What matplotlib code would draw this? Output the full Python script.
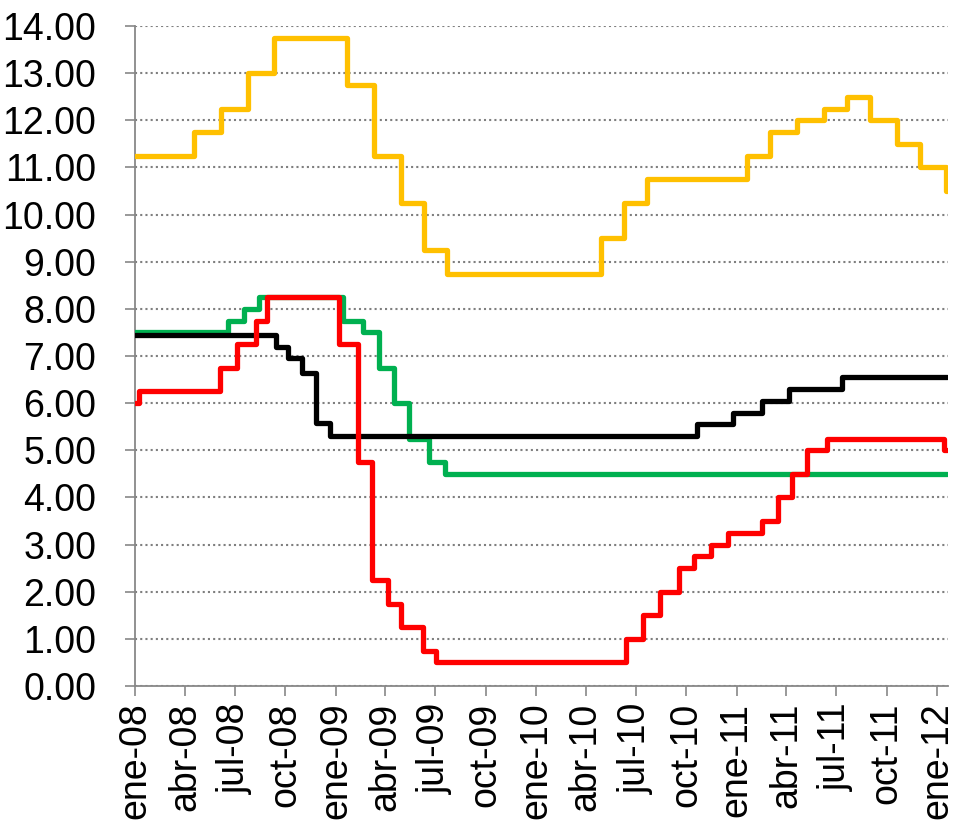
import matplotlib
matplotlib.use("Agg")
import matplotlib.pyplot as plt
import matplotlib.dates as mdates
import pandas as pd

plt.rcParams['font.family'] = ['Liberation Sans', 'DejaVu Sans']

END_DATE = "2012-01-20"

# Yellow series (step change dates and new levels)
yellow_dates = ["2008-01-01", "2008-04-17", "2008-06-05", "2008-07-24", "2008-09-11",
                "2009-01-22", "2009-03-12", "2009-04-30", "2009-06-11", "2009-07-23",
                "2010-04-29", "2010-06-10", "2010-07-22", "2011-01-20", "2011-03-03",
                "2011-04-21", "2011-06-09", "2011-07-21", "2011-09-01", "2011-10-20",
                "2011-12-01", "2012-01-18"]
yellow_values = [11.25, 11.75, 12.25, 13.00, 13.75,
                 12.75, 11.25, 10.25, 9.25, 8.75,
                 9.50, 10.25, 10.75, 11.25, 11.75,
                 12.00, 12.25, 12.50, 12.00, 11.50,
                 11.00, 10.50]

# Green series
green_dates = ["2008-01-01", "2008-06-18", "2008-07-17", "2008-08-13", "2009-01-13",
               "2009-02-20", "2009-03-20", "2009-04-16", "2009-05-15", "2009-06-20",
               "2009-07-19"]
green_values = [7.50, 7.75, 8.00, 8.25, 7.75,
                7.50, 6.75, 6.00, 5.25, 4.75,
                4.50]

# Black series
black_dates = ["2008-01-01", "2008-09-13", "2008-10-05", "2008-11-01", "2008-11-25",
               "2008-12-22", "2010-10-20", "2010-12-25", "2011-02-17", "2011-04-06",
               "2011-07-11"]
black_values = [7.45, 7.20, 6.95, 6.65, 5.57,
                5.30, 5.55, 5.80, 6.05, 6.30,
                6.55]

# Red series
red_dates = ["2008-01-01", "2008-01-09", "2008-06-04", "2008-07-04", "2008-08-08",
             "2008-08-28", "2009-01-07", "2009-02-10", "2009-03-08", "2009-04-06",
             "2009-04-30", "2009-06-09", "2009-07-03", "2010-06-14", "2010-07-15",
             "2010-08-14", "2010-09-18", "2010-10-15", "2010-11-15", "2010-12-16",
             "2011-02-17", "2011-03-17", "2011-04-11", "2011-05-10", "2011-06-14",
             "2012-01-13"]
red_values = [6.00, 6.25, 6.75, 7.25, 7.75,
              8.25, 7.25, 4.75, 2.25, 1.75,
              1.25, 0.75, 0.50, 1.00, 1.50,
              2.00, 2.50, 2.75, 3.00, 3.25,
              3.50, 4.00, 4.50, 5.00, 5.25,
              5.00]

tick_dates = ["2008-01-01", "2008-04-01", "2008-07-01", "2008-10-01",
              "2009-01-01", "2009-04-01", "2009-07-01", "2009-10-01",
              "2010-01-01", "2010-04-01", "2010-07-01", "2010-10-01",
              "2011-01-01", "2011-04-01", "2011-07-01", "2011-10-01",
              "2012-01-01"]
tick_labels = ["ene-08", "abr-08", "jul-08", "oct-08",
               "ene-09", "abr-09", "jul-09", "oct-09",
               "ene-10", "abr-10", "jul-10", "oct-10",
               "ene-11", "abr-11", "jul-11", "oct-11",
               "ene-12"]

y_ticks = list(range(0, 15))


def step_xy(dates, values):
    d = pd.to_datetime(list(dates) + [END_DATE])
    v = list(values) + [values[-1]]
    return d, v


fig = plt.figure(figsize=(9.55, 8.23), dpi=100)
ax = fig.add_axes([135 / 955, 1 - 686 / 823, (948 - 135) / 955, (686 - 26) / 823])

lw = 3.8
series = [(yellow_dates, yellow_values, "#FFC000"),
          (green_dates, green_values, "#00B050"),
          (black_dates, black_values, "#000000"),
          (red_dates, red_values, "#FF0000")]
for dts, vals, col in series:
    x, y = step_xy(dts, vals)
    ax.plot(x, y, drawstyle="steps-post", color=col, linewidth=lw,
            solid_capstyle="round", solid_joinstyle="round", zorder=3)

ax.set_ylim(0, 14)
ax.set_xlim(pd.Timestamp("2008-01-01"), pd.Timestamp("2012-01-21"))
ax.set_yticks(y_ticks)
ax.set_yticklabels([f"{v:.2f}" for v in y_ticks])
ax.set_xticks(pd.to_datetime(tick_dates))
ax.set_xticklabels(tick_labels, rotation=90, ha="center", va="top")

ax.grid(axis="y", color="#7f7f7f", linestyle=(0, (1, 1.5)), linewidth=1.5, zorder=1)
ax.grid(axis="x", visible=False)

for s in ["top", "right"]:
    ax.spines[s].set_visible(False)
for s in ["left", "bottom"]:
    ax.spines[s].set_color("#888888")
    ax.spines[s].set_linewidth(1.3)

ax.tick_params(axis="both", colors="#888888", length=7, width=1.2, direction="out",
               labelsize=27, labelcolor="black")
ax.tick_params(axis="y", pad=21)
ax.tick_params(axis="x", pad=5)

fig.savefig("out.png", dpi=100)
